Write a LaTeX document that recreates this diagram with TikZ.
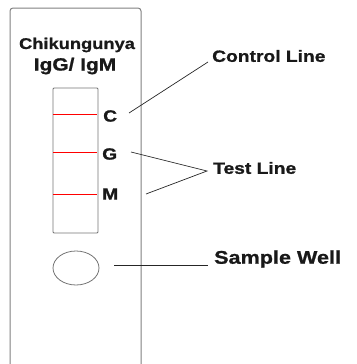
\documentclass[tikz,border=0pt]{standalone}
\usepackage{fontspec}
\setmainfont{Liberation Sans}
\newfontfamily\widesans[FakeStretch=1.18,FakeBold=1]{Liberation Sans}
\newcommand{\lblsize}[1]{\widesans\bfseries\fontsize{#1}{#1}\selectfont}
\begin{document}
\begin{tikzpicture}[x=1pt,y=-1pt,
    lbl/.style={font=\lblsize{16.3}, inner sep=0pt, text=black!90},
    lead/.style={black!85, line width=0.7pt},
    redline/.style={red, line width=1pt}]
    \useasboundingbox (0,0) rectangle (356,364);
    % test strip
    \draw[gray, line width=1pt, rounded corners=3] (10,364) -- (10,8) -- (141,8) -- (141,364);
    \node[lbl, font=\lblsize{15.5}] (title) at (77,45) {Chikungunya};
    \node[lbl, font=\lblsize{17.7}] (ig) at (75,66) {IgG/ IgM};

    % result window
    \draw[gray!90!black, line width=0.8pt, rounded corners=1] (53,88) rectangle (98,233);
    \draw[redline] (53,114) -- (97,114);
    \draw[redline] (53,152.5) -- (97,152.5);
    \draw[redline] (53,194) -- (97,194);
    \node[lbl, anchor=west] (C) at (103,116) {C};
    \node[lbl, anchor=west] (G) at (102,154) {G};
    \node[lbl, anchor=west] (M) at (102,194) {M};

    % sample well
    \draw[gray!90!black, line width=0.8pt] (76,268) ellipse (23 and 17);

    % labels
    \node[lbl, anchor=west] (ctrl) at (212,56) {Control Line};
    \node[lbl, anchor=west] (test) at (213,168) {Test Line};
    \node[lbl, anchor=west, font=\lblsize{18.3}] (well) at (214,259) {Sample Well};

    \coordinate (cFrom) at (129,113);
    \coordinate (cTo) at (208,62);
    \coordinate (gFrom) at (131,152);
    \coordinate (mFrom) at (146,194);
    \coordinate (tTip) at (207,171);
    \coordinate (wFrom) at (114,265);
    \coordinate (wTo) at (208,265);
    \draw[lead] (cFrom) -- (cTo);
    \draw[lead] (gFrom) -- (tTip) -- (mFrom);
    \draw[lead] (wFrom) -- (wTo);
\end{tikzpicture}
\end{document}
